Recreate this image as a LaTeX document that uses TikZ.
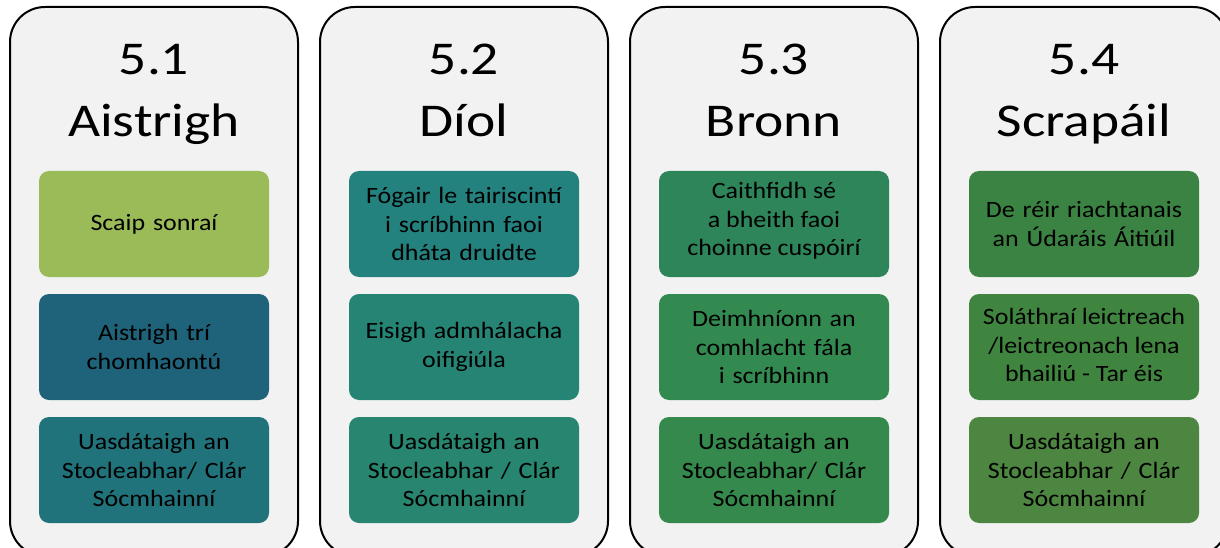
\documentclass[tikz,border=0pt]{standalone}
\usepackage{fontspec}
\setmainfont{Carlito}
\newfontfamily\titlefont{Carlito}[FakeStretch=1.18]
\newfontfamily\itemfont{Carlito}[FakeStretch=1.11]
\definecolor{panelbg}{HTML}{F2F2F2}
\definecolor{cA1}{HTML}{9BBB59}
\definecolor{cA2}{HTML}{1F637A}
\definecolor{cA3}{HTML}{21737B}
\definecolor{cB1}{HTML}{23817E}
\definecolor{cB2}{HTML}{268474}
\definecolor{cB3}{HTML}{288570}
\definecolor{cC1}{HTML}{2E855A}
\definecolor{cC2}{HTML}{338A50}
\definecolor{cC3}{HTML}{35894C}
\definecolor{cD1}{HTML}{3B8343}
\definecolor{cD2}{HTML}{3F853F}
\definecolor{cD3}{HTML}{4D8641}
\tikzset{
  panel/.style={draw=black, line width=2pt, fill=panelbg, rounded corners=35pt},
  titletext/.style={anchor=base, inner sep=0pt, font=\titlefont\fontsize{47}{57}\selectfont},
  item/.style={rounded corners=10pt, minimum width=230pt, minimum height=106pt,
    inner sep=0pt, text width=226pt, align=center, text=black,
    font=\itemfont\fontsize{23.4}{28.8}\selectfont},
  itemtext/.style={anchor=north, align=center, inner sep=0pt, text=black,
    font=\itemfont\fontsize{23.4}{28.8}\selectfont}
}
\begin{document}
\begin{tikzpicture}[x=1pt,y=-1pt]
\useasboundingbox (0,0) rectangle (1220,548);
\fill[white] (0,0) rectangle (1220,548);
\clip (0,0) rectangle (1220,548);
% panels
\draw[panel] (10,7) rectangle (298,556);
\draw[panel] (320,7) rectangle (608,556);
\draw[panel] (630,7) rectangle (918,556);
\draw[panel] (940,7) rectangle (1228,556);
% titles
\node[titletext] (t1a) at (154,75) {5.1};
\node[titletext] (t1b) at (154,137) {Aistrigh};
\node[titletext] (t2a) at (464,75) {5.2};
\node[titletext] (t2b) at (464,137) {Díol};
\node[titletext] (t3a) at (774,75) {5.3};
\node[titletext] (t3b) at (774,137) {Bronn};
\node[titletext] (t4a) at (1084,75) {5.4};
\node[titletext] (t4b) at (1084,137) {Scrapáil};
% column 1
\node[item, fill=cA1] (a1) at (154,224) {Scaip sonraí};
\node[item, fill=cA2] (a2) at (154,347) {Aistrigh trí\\chomhaontú};
\node[item, fill=cA3] (a3) at (154,470) {Uasdátaigh an\\Stocleabhar/ Clár\\Sócmhainní};
% column 2
\node[item, fill=cB1] (b1) at (464,224) {Fógair le tairiscintí\\i scríbhinn faoi\\dháta druidte};
\node[item, fill=cB2] (b2) at (464,347) {Eisigh admhálacha\\oifigiúla};
\node[item, fill=cB3] (b3) at (464,470) {Uasdátaigh an\\Stocleabhar / Clár\\Sócmhainní};
% column 3
\node[item, fill=cC1] (c1) at (774,224) {};
\node[itemtext] (c1t) at (c1.north) [yshift=-11pt] {Caithfidh sé\\a bheith faoi\\choinne cuspóirí};
\node[item, fill=cC2] (c2) at (774,347) {Deimhníonn an\\comhlacht fála\\i scríbhinn};
\node[item, fill=cC3] (c3) at (774,470) {Uasdátaigh an\\Stocleabhar/ Clár\\Sócmhainní};
% column 4
\node[item, fill=cD1] (d1) at (1084,224) {De réir riachtanais\\an Údaráis Áitiúil};
\node[item, fill=cD2] (d2) at (1084,347) {};
\node[itemtext] (d2t) at (d2.north) [yshift=-14pt] {Soláthraí leictreach\\/leictreonach lena\\bhailiú - Tar éis};
\node[item, fill=cD3] (d3) at (1084,470) {Uasdátaigh an\\Stocleabhar / Clár\\Sócmhainní};
\end{tikzpicture}
\end{document}
